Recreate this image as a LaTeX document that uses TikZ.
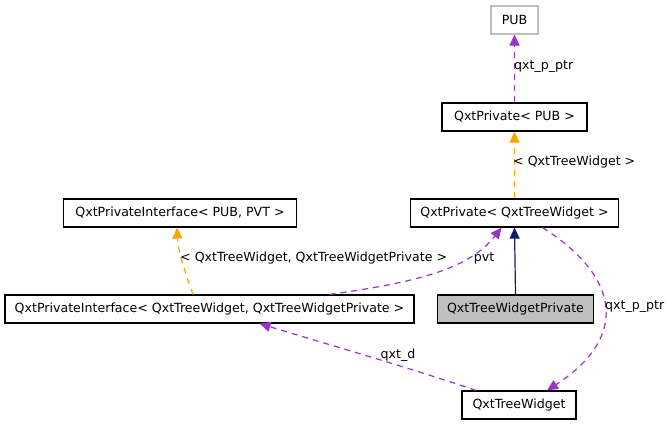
\documentclass[tikz,border=0pt]{standalone}
\usepackage{fontspec}
\setmainfont{DejaVu Sans}
\usetikzlibrary{arrows}
\usetikzlibrary{arrows.meta}
\usetikzlibrary{calc}
\definecolor{linkPurple}{HTML}{9A32CD}
\definecolor{tmplOrange}{HTML}{FFA500}
\definecolor{inhNavy}{HTML}{191970}
\definecolor{boxGrey}{HTML}{BFBFBF}
\tikzset{
	classBox/.style={draw=black, fill=white, line width=1.2pt, minimum height=28pt, inner sep=0pt, font=\fontsize{12.6}{15}\selectfont},
	edgeLabel/.style={inner sep=0pt, font=\fontsize{12.6}{15}\selectfont},
	usesLink/.style={-{Triangle[length=11pt,width=10pt]}, linkPurple, line width=1.2pt, dash pattern=on 6pt off 5pt},
	tmplLink/.style={-{Triangle[length=11pt,width=10pt]}, tmplOrange, line width=1.2pt, dash pattern=on 6pt off 5pt},
	inhLink/.style={-{Triangle[length=11pt,width=10pt]}, inhNavy, line width=1.2pt}
}
\newcommand{\drawClassBox}[5]{
	\node[classBox, minimum width=#4pt, #5] (#1) at (#2) {#3};
}

\begin{document}
\begin{tikzpicture}[x=1pt, y=-1pt]
		\useasboundingbox (0,0) rectangle (669,424);

		\coordinate (PUB_C) at (514.5,20);
		\coordinate (PrivPub_C) at (514.5,117);
		\coordinate (PrivTW_C) at (514.5,213);
		\coordinate (IfacePV_C) at (180,213);
		\coordinate (IfaceTW_C) at (209.5,309);
		\coordinate (TWPriv_C) at (515.5,309);
		\coordinate (TW_C) at (519,405);

		\drawClassBox{pub}{PUB_C}{PUB}{47}{draw=boxGrey}
		\drawClassBox{privPub}{PrivPub_C}{QxtPrivate< PUB >}{145}{}
		\drawClassBox{privTW}{PrivTW_C}{QxtPrivate< QxtTreeWidget >}{208}{}
		\drawClassBox{ifacePV}{IfacePV_C}{QxtPrivateInterface< PUB, PVT >}{233}{}
		\drawClassBox{ifaceTW}{IfaceTW_C}{QxtPrivateInterface< QxtTreeWidget, QxtTreeWidgetPrivate >}{409}{}
		\drawClassBox{twPriv}{TWPriv_C}{QxtTreeWidgetPrivate}{156}{fill=boxGrey}
		\drawClassBox{tw}{TW_C}{QxtTreeWidget}{114}{}

		\draw[usesLink] (privPub.north) -- (pub.south);
		\draw[tmplLink] (privTW.north) -- (privPub.south);
		\draw[inhLink] (twPriv.north) -- (privTW.south);
		\draw[tmplLink] ([xshift=-16.5pt]ifaceTW.north) .. controls (184,270) and (178,250) .. ([xshift=-3pt]ifacePV.south);
		\draw[usesLink] ([xshift=120pt]ifaceTW.north) .. controls (420,282) and (470,268) .. ([xshift=-13pt]privTW.south);
		\draw[usesLink] ([xshift=28pt]privTW.south) .. controls (625,280) and (625,340) .. ([xshift=28pt]tw.north);
		\draw[usesLink] ([xshift=-43pt]tw.north) .. controls (410,368) and (330,345) .. ([xshift=50pt]ifaceTW.south);

		\node[edgeLabel, anchor=west] (lblPtrTop) at (514,67) {qxt\_p\_ptr};
		\node[edgeLabel, anchor=west] (lblTmplTop) at (513,162) {< QxtTreeWidget >};
		\node[edgeLabel, anchor=west] (lblTmplIface) at (180,258) {< QxtTreeWidget, QxtTreeWidgetPrivate >};
		\node[edgeLabel] (lblPvt) at (484,258) {pvt};
		\node[edgeLabel, anchor=west] (lblPtrRight) at (605,307) {qxt\_p\_ptr};
		\node[edgeLabel] (lblD) at (398,355) {qxt\_d};
	\end{tikzpicture}
\end{document}
